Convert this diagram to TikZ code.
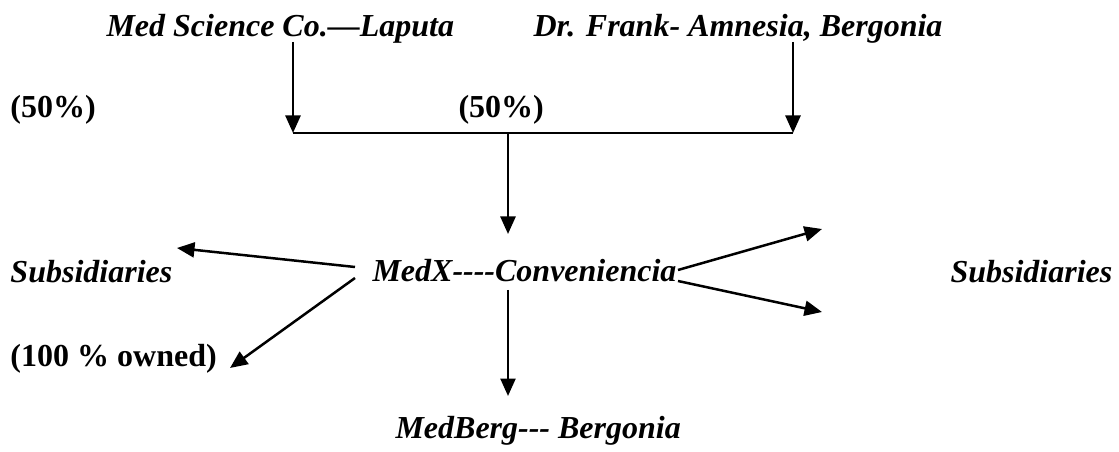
\documentclass[tikz,border=0pt]{standalone}
\usepackage{fontspec}
\setmainfont{Liberation Serif}
\usetikzlibrary{arrows.meta}
\newcommand\hy{\mbox{-}}
\begin{document}
\begin{tikzpicture}[x=0.4pt,y=-0.4pt,
  lbl/.style={inner sep=0pt,anchor=base west,font=\fontsize{12.8}{15}\selectfont\bfseries\itshape},
  pct/.style={inner sep=0pt,anchor=base west,font=\fontsize{12.8}{15}\selectfont\bfseries},
  conn/.style={line width=1pt},
  arr/.style={conn,-{Triangle[length=7pt,width=6pt]}}]
\useasboundingbox (0,0) rectangle (1119,452);
\node[lbl] (med) at (106,37) {Med Science Co.—Laputa};
\node[lbl] (frank) at (533,37) {Dr. Frank\hy{} Amnesia, Bergonia};
\node[pct] (p1) at (10,118) {(50\%)};
\node[pct] (p2) at (458,118) {(50\%)};
\node[lbl] (medx) at (372,282) {MedX\hy\hy\hy\hy Conveniencia};
\node[lbl] (subl) at (10,283) {Subsidiaries};
\node[lbl] (subr) at (950,283) {Subsidiaries};
\node[pct] (own) at (10,367) {(100 \% owned)};
\node[lbl] (berg) at (395,438) {MedBerg\hy\hy\hy{} Bergonia};
% coordinates
\coordinate (a1s) at (293,42);
\coordinate (a1e) at (293,133);
\coordinate (a2s) at (793,42);
\coordinate (a2e) at (793,133);
\coordinate (mid) at (508,133);
\coordinate (midE) at (508,234);
\coordinate (ls) at (355,267);
\coordinate (le) at (177,248);
\coordinate (os) at (355,278);
\coordinate (oe) at (230,368);
\coordinate (ds) at (508,290);
\coordinate (de) at (508,396);
\coordinate (rs1) at (678,270);
\coordinate (re1) at (822,229);
\coordinate (rs2) at (678,281);
\coordinate (re2) at (822,312);
\draw[arr] (a1s) -- (a1e);
\draw[arr] (a2s) -- (a2e);
\draw[conn] (a1e) -- (a2e);
\draw[arr] (mid) -- (midE);
\draw[arr] (ls) -- (le);
\draw[arr] (os) -- (oe);
\draw[arr] (ds) -- (de);
\draw[arr] (rs1) -- (re1);
\draw[arr] (rs2) -- (re2);
\end{tikzpicture}
\end{document}
